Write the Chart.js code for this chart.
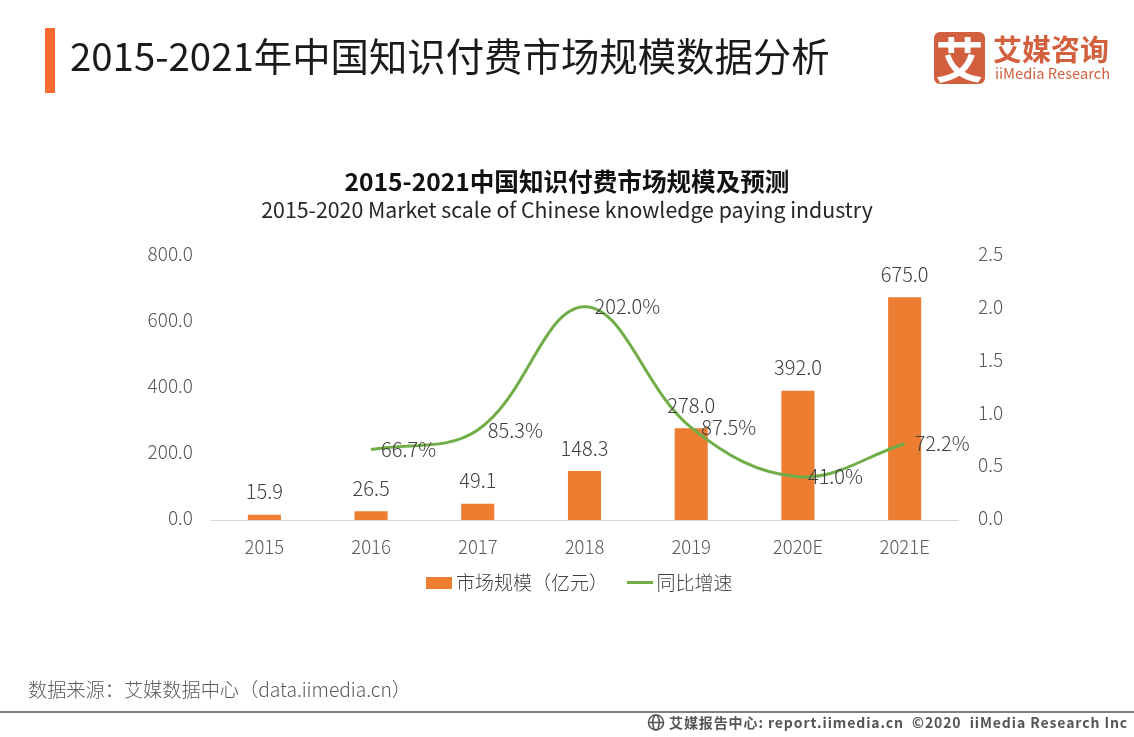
<!DOCTYPE html>
<html lang="zh"><head><meta charset="utf-8">
<script src="https://cdn.jsdelivr.net/npm/chart.js@4/dist/chart.umd.min.js"></script>
<style>
html,body{margin:0;padding:0;background:#fff;width:1134px;height:737px;overflow:hidden;font-family:"Noto Sans CJK SC","Noto Sans",sans-serif}
#c{position:absolute;left:0;top:0;width:1134px;height:737px}
.t{position:absolute;white-space:nowrap;line-height:1}
#bar{position:absolute;left:45px;top:28px;width:10px;height:65px;background:#FB6B30}
#rule{position:absolute;left:0;top:711px;width:1134px;height:2px;background:#808080}
#logo{position:absolute;left:934px;top:32px;width:51px;height:52px;border-radius:6px;background:#D2603F;color:#fff;font-size:48px;font-weight:700;line-height:50px;text-align:center}
</style></head><body>
<canvas id="c" width="1134" height="737"></canvas>
<div id="bar"></div>
<div class="t" id="head" style="left:70px;top:35px;font-size:38.4px;color:#1a1a1a">2015-2021年中国知识付费市场规模数据分析</div>
<div id="logo">艾</div>
<div class="t" style="left:993px;top:34px;font-size:29px;font-weight:700;color:#D2603F">艾媒咨询</div>
<div class="t" style="left:995px;top:66px;font-size:14.7px;color:#D2603F">iiMedia Research</div>
<div class="t" style="left:28px;top:680px;font-size:19.2px;font-weight:300;color:#595959">数据来源：艾媒数据中心（data.iimedia.cn）</div>
<div id="rule"></div>
<svg style="position:absolute;left:647px;top:713px" width="19" height="19" viewBox="0 0 19 19" fill="none" stroke="#555" stroke-width="1.6"><circle cx="9" cy="9.5" r="7.5"/><ellipse cx="9" cy="9.5" rx="3.2" ry="7.5"/><path d="M2 9.5h14"/></svg>
<div class="t" style="left:669px;top:715px;font-size:14px;font-weight:700;color:#555;letter-spacing:.9px">艾媒报告中心: report.iimedia.cn &nbsp;©2020 &nbsp;iiMedia Research Inc</div>
<script>
const categories=["2015","2016","2017","2018","2019","2020E","2021E"];
const marketScale=[15.9,26.5,49.1,148.3,278.0,392.0,675.0];
const growthRate=[null,0.667,0.853,2.02,0.875,0.41,0.722];
const growthLabels=[null,"66.7%","85.3%","202.0%","87.5%","41.0%","72.2%"];
const chartTitle="2015-2021中国知识付费市场规模及预测";
const chartSubtitle="2015-2020 Market scale of Chinese knowledge paying industry";
const FONT='"Noto Sans CJK SC","Noto Sans",sans-serif';
function swatch(color,h){
  const cv=document.createElement('canvas');cv.width=26;cv.height=h+(h%2?10:0);
  const g=cv.getContext('2d');g.fillStyle=color;g.fillRect(0,(cv.height-h)/2,26,h);
  return cv;
}
const valueLabels={id:'valueLabels',afterDatasetsDraw(chart){
  const c=chart.ctx;c.save();c.font='300 20px '+FONT;c.fillStyle='#404040';
  const b=chart.getDatasetMeta(1).data, l=chart.getDatasetMeta(0).data;
  c.textAlign='center';c.textBaseline='bottom';
  marketScale.forEach((v,i)=>c.fillText(v.toFixed(1),b[i].x,b[i].y-13));
  c.textAlign='left';c.textBaseline='middle';
  growthLabels.forEach((s,i)=>{if(s)c.fillText(s,l[i].x+10,l[i].y)});
  c.restore();
}};
const shiftLegend={id:'shiftLegend',afterLayout(chart){const L=chart.legend;L.left+=15.5;L.right+=15.5;L.top-=25;L.bottom-=25;}};
new Chart(document.getElementById('c'),{
  data:{labels:categories,datasets:[
    {type:'line',label:'同比增速',data:growthRate,yAxisID:'y1',borderColor:'#70AD47',backgroundColor:'#70AD47',borderWidth:3,pointRadius:0,tension:0.38,order:0,pointStyle:swatch('#70AD47',3),clip:false},
    {type:'bar',label:'市场规模（亿元）',data:marketScale,yAxisID:'y',backgroundColor:'#ED7D31',categoryPercentage:1,barPercentage:0.31,order:1,pointStyle:swatch('#ED7D31',12)}
  ]},
  plugins:[valueLabels,shiftLegend],
  options:{responsive:false,animation:false,devicePixelRatio:1,
    layout:{padding:{top:167,bottom:110,left:0,right:0}},
    plugins:{
      title:{display:true,text:chartTitle,color:'#111',font:{family:FONT,size:24.6,weight:'700'},padding:{top:0,bottom:1}},
      subtitle:{display:true,text:chartSubtitle,color:'#262626',font:{family:FONT,size:21.3,weight:'400'},padding:{top:0,bottom:33}},
      legend:{position:'bottom',reverse:true,labels:{usePointStyle:true,pointStyleWidth:14,boxHeight:12,color:'#404040',font:{family:FONT,size:19,weight:'300'},padding:25}},
      tooltip:{enabled:false}
    },
    scales:{
      x:{grid:{display:false,drawTicks:false},border:{color:'#D9D9D9',width:1},ticks:{color:'#595959',font:{family:FONT,size:18.5,weight:'300'},padding:16,maxRotation:0},afterFit(s){s.height=53}},
      y:{position:'left',min:0,max:800,grid:{display:false},border:{display:false},ticks:{stepSize:200,color:'#595959',font:{family:FONT,size:19,weight:'300'},padding:10,labelOffset:-2,callback:v=>v.toFixed(1)},afterFit(s){s.width=211}},
      y1:{position:'right',min:0,max:2.5,grid:{display:false},border:{display:false},ticks:{stepSize:0.5,color:'#595959',font:{family:FONT,size:19,weight:'300'},padding:12,labelOffset:-2,callback:v=>v.toFixed(1)},afterFit(s){s.width=176}}
    }
  }
});
</script>
</body></html>
